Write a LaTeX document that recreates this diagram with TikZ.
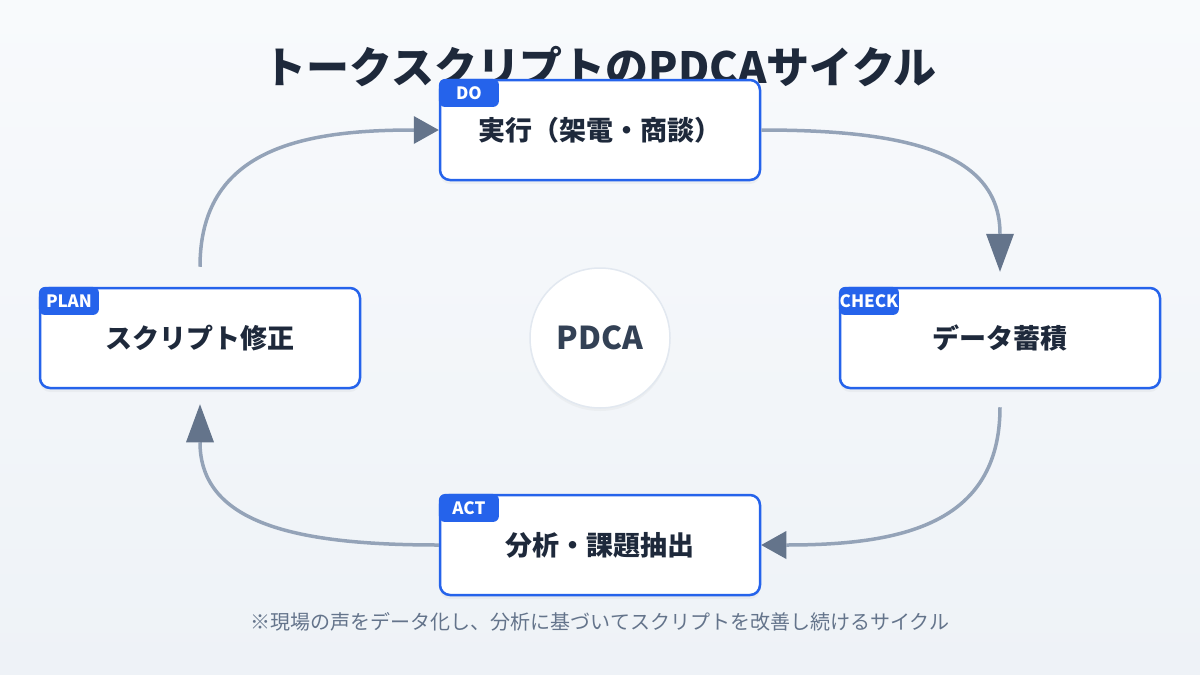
\documentclass[tikz,border=0pt]{standalone}
\usepackage{fontspec}
\setmainfont{Noto Sans CJK JP}
\usetikzlibrary{arrows.meta,shadows}
\definecolor{bluec}{HTML}{2563EB}
\definecolor{textc}{HTML}{1E293B}
\definecolor{linec}{HTML}{94A3B8}
\definecolor{headc}{HTML}{64748B}
\definecolor{notec}{HTML}{64748B}
\definecolor{circc}{HTML}{E2E8F0}
\definecolor{pdcac}{HTML}{334155}
\definecolor{bgtop}{HTML}{F8FAFC}
\definecolor{bgbot}{HTML}{EEF2F7}
\tikzset{
  stagebox/.style={draw=bluec, line width=2.5pt, fill=white, rounded corners=10pt,
    minimum width=320pt, minimum height=100pt, inner sep=0pt,
    text=textc, font=\fontsize{27}{30}\selectfont\bfseries,
    drop shadow={opacity=0.07, shadow xshift=0pt, shadow yshift=-4pt}},
  tagbox/.style={fill=bluec, rounded corners=6pt, minimum width=60pt, minimum height=28pt,
    inner sep=0pt, text=white, font=\fontsize{17}{19}\selectfont\bfseries, anchor=north west},
  flowh/.style={draw=linec, line width=3.5pt,
    -{Triangle[length=25pt,width=28pt,color=headc,line width=0pt]}},
  flowv/.style={draw=linec, line width=3.5pt,
    -{Triangle[length=38pt,width=28pt,color=headc,line width=0pt]}},
}
\begin{document}
\begin{tikzpicture}[x=1pt,y=-1pt]
\useasboundingbox (0,0) rectangle (1200,675);
\shade[top color=bgtop, bottom color=bgbot] (0,0) rectangle (1200,675);

\node[text=textc, font=\fontsize{43}{48}\selectfont\bfseries] (title) at (600,67) {トークスクリプトのPDCAサイクル};

\node[stagebox] (do) at (600,130) {実行（架電・商談）};
\node[stagebox] (check) at (1000,338) {データ蓄積};
\node[stagebox] (act) at (600,545) {分析・課題抽出};
\node[stagebox] (plan) at (200,338) {スクリプト修正};

\node[tagbox] (dotag) at (do.north west) {DO};
\node[tagbox] (checktag) at (check.north west) {CHECK};
\node[tagbox] (acttag) at (act.north west) {ACT};
\node[tagbox] (plantag) at (plan.north west) {PLAN};

\node[circle, draw=circc, line width=1.5pt, fill=white, minimum size=140pt, inner sep=0pt,
  text=pdcac, font=\fontsize{31.5}{34}\selectfont\bfseries,
  drop shadow={opacity=0.06, shadow xshift=0pt, shadow yshift=-3pt}] (center) at (600,338) {PDCA};

\draw[flowh] ([yshift=20pt]plan.north) .. controls (200,150) and (300,130) .. (do.west);
\draw[flowv] (do.east) .. controls (900,130) and (1000,150) .. ([yshift=15pt]check.north);
\draw[flowh] ([yshift=-18pt]check.south) .. controls (1000,525) and (900,545) .. (act.east);
\draw[flowv] (act.west) .. controls (300,545) and (200,525) .. ([yshift=-15pt]plan.south);

\node[text=notec, font=\fontsize{20}{24}\selectfont] (note) at (600,622) {※現場の声をデータ化し、分析に基づいてスクリプトを改善し続けるサイクル};
\end{tikzpicture}
\end{document}
